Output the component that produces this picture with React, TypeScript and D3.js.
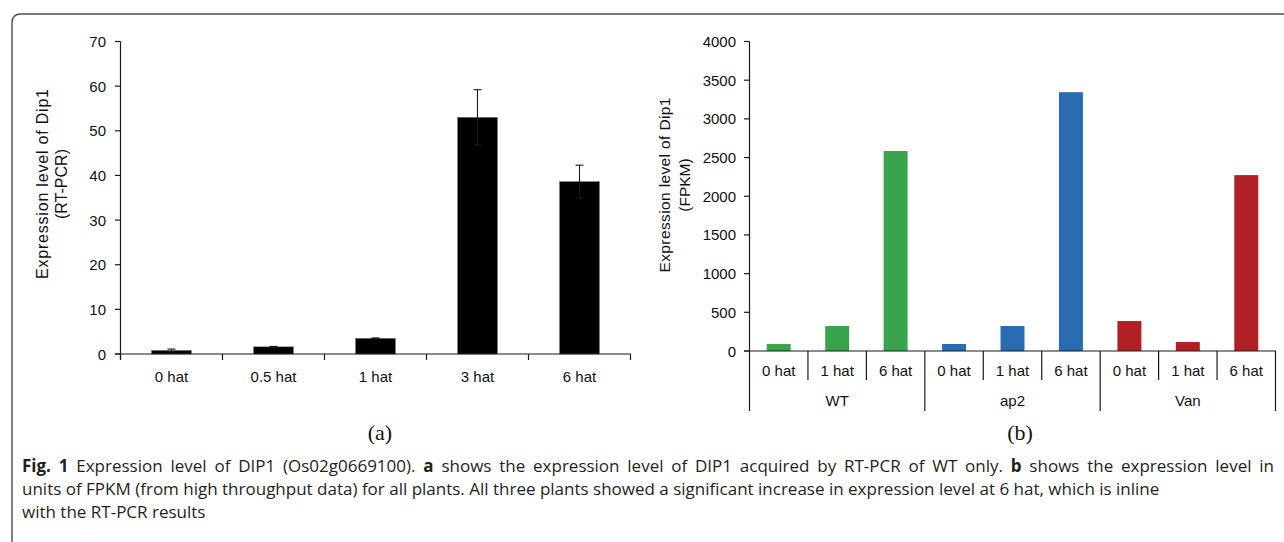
import React, { useLayoutEffect, useRef } from "react";
import * as d3 from "d3";

const catsA = ["0 hat", "0.5 hat", "1 hat", "3 hat", "6 hat"];
const valsA = [0.8, 1.6, 3.5, 53, 38.6];
const errA = [0.3, 0.1, 0.1, 6.2, 3.7];
const ticksA = [0, 10, 20, 30, 40, 50, 60, 70];

const groupsB = ["WT", "ap2", "Van"];
const timesB = ["0 hat", "1 hat", "6 hat"];
const valsB = [
  [90, 323, 2585],
  [90, 323, 3345],
  [387, 116, 2273],
];
const colorsB = ["#38a44c", "#286bb1", "#b02024"];
const ticksB = [0, 500, 1000, 1500, 2000, 2500, 3000, 3500, 4000];

const captionLines = [
  [
    { t: "Fig. 1", b: true },
    { t: " Expression level of DIP1 (Os02g0669100). ", b: false },
    { t: "a", b: true },
    { t: " shows the expression level of DIP1 acquired by RT-PCR of WT only. ", b: false },
    { t: "b", b: true },
    { t: " shows the expression level in", b: false },
  ],
  [
    {
      t: "units of FPKM (from high throughput data) for all plants. All three plants showed a significant increase in expression level at 6 hat, which is inline",
      b: false,
    },
  ],
  [{ t: "with the RT-PCR results", b: false }],
];

const AX = "#1a1a1a";
const F = "'Liberation Sans', Arial, sans-serif";
const LINE1_WIDTH = 1252;

export default function App() {
  const line1 = useRef<SVGTextElement | null>(null);

  useLayoutEffect(() => {
    const el = line1.current;
    if (!el) return;
    el.removeAttribute("word-spacing");
    const natural = el.getComputedTextLength();
    const text = el.textContent || "";
    const spaces = (text.match(/ /g) || []).length;
    if (spaces > 0) el.setAttribute("word-spacing", String((LINE1_WIDTH - natural) / spaces));
  }, []);

  // Panel a
  const xA = d3.scaleBand<string>().domain(catsA).range([120.5, 630.5]).paddingInner(0.61).paddingOuter(0.305);
  const yA = d3.scaleLinear().domain([0, 70]).range([354, 41.5]);
  const stepA = xA.step();

  // Panel b
  const flatB = groupsB.flatMap((g, gi) => timesB.map((t, ti) => ({ key: g + "|" + t, g, gi, t, v: valsB[gi][ti] })));
  const xB = d3.scaleBand<string>().domain(flatB.map((d) => d.key)).range([749.5, 1275.5]).paddingInner(0.59).paddingOuter(0.295);
  const yB = d3.scaleLinear().domain([0, 4000]).range([351, 41.5]);
  const stepB = xB.step();

  return (
    <svg width={1284} height={542} style={{ display: "block", position: "absolute", left: 0, top: 0 }}>
      <rect x={0} y={0} width={1284} height={542} fill="#fff" />
      <path d="M12,560 L12,23 Q12,14 21,14 L1300,14" fill="none" stroke="#4d4d4d" strokeWidth={1.4} />

      {/* Panel a */}
      <g fontFamily={F} fontSize={15} fill="#111">
        {catsA.map((c, i) => (
          <rect key={c} x={xA(c)} y={yA(valsA[i])} width={xA.bandwidth()} height={yA(0) - yA(valsA[i])} fill="#000" stroke="#666" strokeWidth={0.5} />
        ))}
        {catsA.map((c, i) => {
          const cx = (xA(c) as number) + xA.bandwidth() / 2;
          const top = yA(valsA[i] + errA[i]);
          const bot = yA(valsA[i] - errA[i]);
          return (
            <g key={"e" + c} stroke="#1a1a10" strokeWidth={1.1}>
              <line x1={cx} x2={cx} y1={top} y2={bot} />
              <line x1={cx - 4} x2={cx + 4} y1={top} y2={top} />
              <line x1={cx - 4} x2={cx + 4} y1={bot} y2={bot} />
            </g>
          );
        })}
        <line x1={120.5} x2={120.5} y1={yA(70)} y2={yA(0) + 5} stroke={AX} strokeWidth={1.2} />
        <line x1={115} x2={631} y1={yA(0)} y2={yA(0)} stroke={AX} strokeWidth={1.2} />
        {ticksA.map((t) => (
          <g key={t}>
            <line x1={115} x2={120.5} y1={yA(t)} y2={yA(t)} stroke={AX} strokeWidth={1.2} />
            <text x={106} y={yA(t) + 5.5} textAnchor="end">{t}</text>
          </g>
        ))}
        {d3.range(catsA.length + 1).map((i) => (
          <line key={i} x1={120.5 + i * stepA} x2={120.5 + i * stepA} y1={yA(0)} y2={yA(0) + 6} stroke={AX} strokeWidth={1.2} />
        ))}
        {catsA.map((c) => (
          <text key={"l" + c} x={(xA(c) as number) + xA.bandwidth() / 2} y={382} textAnchor="middle">{c}</text>
        ))}
        <text transform="translate(48,184) rotate(-90)" textAnchor="middle" fontSize={16} textLength={190} lengthAdjust="spacing">Expression level of Dip1</text>
        <text transform="translate(67,184) rotate(-90)" textAnchor="middle" fontSize={16}>(RT-PCR)</text>
        <text x={380} y={440} textAnchor="middle" fontFamily="'Liberation Serif', 'Times New Roman', serif" fontSize={22}>(a)</text>
      </g>

      {/* Panel b */}
      <g fontFamily={F} fontSize={15} fill="#111">
        {flatB.map((d) => (
          <rect key={d.key} x={xB(d.key)} y={yB(d.v)} width={xB.bandwidth()} height={yB(0) - yB(d.v)} fill={colorsB[d.gi]} />
        ))}
        <line x1={749.5} x2={749.5} y1={yB(4000)} y2={yB(0)} stroke={AX} strokeWidth={1.2} />
        <line x1={744} x2={1276} y1={yB(0)} y2={yB(0)} stroke={AX} strokeWidth={1.2} />
        {ticksB.map((t) => (
          <g key={t}>
            <line x1={744} x2={749.5} y1={yB(t)} y2={yB(t)} stroke={AX} strokeWidth={1.2} />
            <text x={736} y={yB(t) + 5.5} textAnchor="end">{t}</text>
          </g>
        ))}
        {d3.range(flatB.length + 1).map((i) => (
          <line key={"s" + i} x1={749.5 + i * stepB} x2={749.5 + i * stepB} y1={yB(0)} y2={i % 3 === 0 ? 411 : 380} stroke={AX} strokeWidth={1.2} />
        ))}
        {flatB.map((d) => (
          <text key={"l" + d.key} x={(xB(d.key) as number) + xB.bandwidth() / 2} y={375.5} textAnchor="middle">{d.t}</text>
        ))}
        {groupsB.map((g, gi) => (
          <text key={g} x={749.5 + (gi * 3 + 1.5) * stepB} y={405.5} textAnchor="middle">{g}</text>
        ))}
        <text transform="translate(670,185) rotate(-90)" textAnchor="middle" fontSize={15.5} textLength={175} lengthAdjust="spacing">Expression level of Dip1</text>
        <text transform="translate(690,185) rotate(-90)" textAnchor="middle" fontSize={15.5}>(FPKM)</text>
        <text x={1020} y={440} textAnchor="middle" fontFamily="'Liberation Serif', 'Times New Roman', serif" fontSize={22}>(b)</text>
      </g>

      {/* Caption */}
      <g fontFamily="'Open Sans', sans-serif" fontSize={17} fill="#231f20">
        {captionLines.map((line, li) => (
          <text key={li} ref={li === 0 ? line1 : undefined} x={22} y={472 + li * 23}>
            {line.map((s, si) => (
              <tspan key={si} fontWeight={s.b ? 700 : 400}>{s.t}</tspan>
            ))}
          </text>
        ))}
      </g>
    </svg>
  );
}
